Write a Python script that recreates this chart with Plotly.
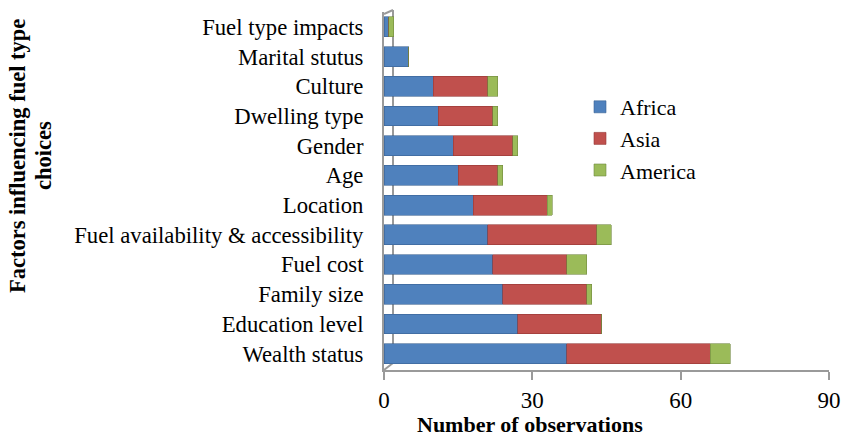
import plotly.graph_objects as go

categories = ["Wealth status", "Education level", "Family size", "Fuel cost",
              "Fuel availability & accessibility", "Location", "Age", "Gender",
              "Dwelling type", "Culture", "Marital stutus", "Fuel type impacts"]
africa = [37, 27, 24, 22, 21, 18, 15, 14, 11, 10, 5, 1]
asia = [29, 17, 17, 15, 22, 15, 8, 12, 11, 11, 0, 0]
america = [4, 0, 1, 4, 3, 1, 1, 1, 1, 2, 0, 1]
x_ticks = [0, 30, 60, 90]

colors = {"Africa": "#4F81BD", "Asia": "#C0504D", "America": "#9BBB59"}
edge = {"Africa": "#3A6393", "Asia": "#953735", "America": "#71893F"}

W, H = 845, 436
L, R, T, B = 384, 16, 12, 66
pw, ph = W - L - R, H - T - B


def px(x):
    return (x - L) / pw


def py(y):
    return (H - B - y) / ph


fig = go.Figure()
for name, vals in [("Africa", africa), ("Asia", asia), ("America", america)]:
    fig.add_trace(go.Bar(
        y=categories, x=vals, name=name, orientation="h", legendgroup=name,
        marker=dict(color=colors[name], line=dict(color=edge[name], width=0.6)),
    ))

font = "Liberation Serif, Times New Roman, serif"
grey = "#9A9A9A"
fig.update_layout(
    barmode="stack",
    bargap=0.33,
    width=W, height=H,
    margin=dict(l=L, r=R, t=T, b=B, autoexpand=False),
    paper_bgcolor="white", plot_bgcolor="white",
    font=dict(family=font, size=22, color="black"),
    showlegend=True,
    legend=dict(x=px(580), y=py(86), xanchor="left", yanchor="top",
                font=dict(family=font, size=22, color="black"),
                traceorder="normal", itemwidth=30, tracegroupgap=3,
                bgcolor="rgba(0,0,0,0)"),
    xaxis=dict(range=[0, 90], tickvals=x_ticks, showgrid=False, zeroline=False,
               automargin=False,
               showline=True, linecolor=grey, linewidth=2,
               ticks="outside", ticklen=8, tickcolor=grey, tickwidth=2,
               tickfont=dict(family=font, size=23, color="black")),
    yaxis=dict(range=[-0.55, 11.5], showgrid=False, zeroline=False,
               automargin=False,
               showline=True, linecolor=grey, linewidth=2,
               ticks="", ticklabelstandoff=14,
               tickfont=dict(family=font, size=22.7, color="black")),
)
# 3D wall / floor edges (behind the bars)
for x0, x1, y0, y1 in [(393, 393, 363, 10), (384, 393, 370, 363), (384, 393, 14, 10)]:
    fig.add_shape(type="line", xref="paper", yref="paper", layer="below",
                  x0=px(x0), x1=px(x1), y0=py(y0), y1=py(y1),
                  line=dict(color=grey, width=2))

fig.add_annotation(text="<b>Number of observations</b>", xref="paper", yref="paper",
                   x=px(530), y=py(424), xanchor="center", yanchor="middle",
                   showarrow=False, font=dict(family=font, size=22, color="black"))
fig.add_annotation(text="<b>Factors influencing fuel type</b>", xref="paper", yref="paper",
                   x=px(17), y=py(156), xanchor="center", yanchor="middle", textangle=-90,
                   showarrow=False, font=dict(family=font, size=22.5, color="black"))
fig.add_annotation(text="<b>choices</b>", xref="paper", yref="paper",
                   x=px(43), y=py(156), xanchor="center", yanchor="middle", textangle=-90,
                   showarrow=False, font=dict(family=font, size=22.5, color="black"))
fig.write_html("out.html", config={"displayModeBar": False},
               post_script="document.body.style.margin='0';document.body.style.overflow='hidden';")
